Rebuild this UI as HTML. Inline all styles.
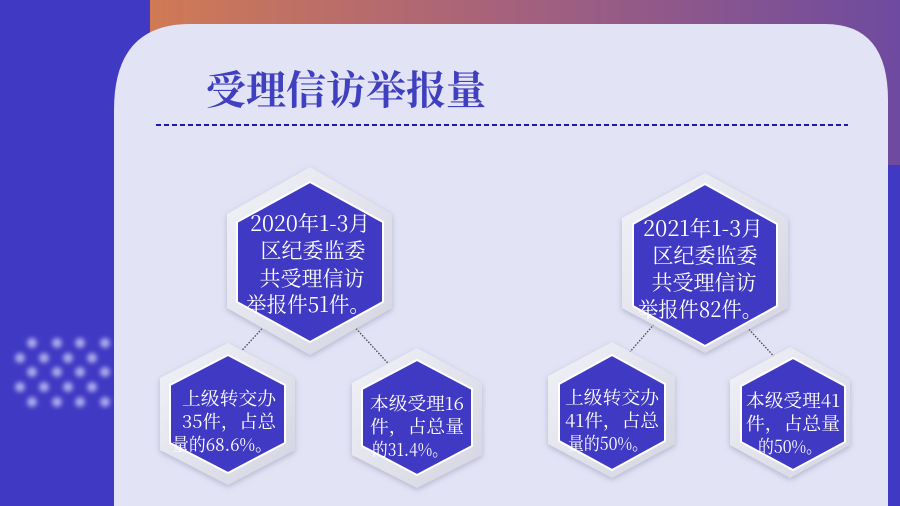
<!DOCTYPE html>
<html><head><meta charset="utf-8"><style>
html,body{margin:0;padding:0;width:900px;height:506px;overflow:hidden;background:#4039c3}
</style></head><body>
<svg width="900" height="506" xmlns="http://www.w3.org/2000/svg" style="position:absolute;left:0;top:0">
<defs>
<linearGradient id="bg" x1="0" y1="0" x2="1" y2="0">
<stop offset="0" stop-color="#d07a55"/><stop offset="0.45" stop-color="#a8637a"/><stop offset="1" stop-color="#6e4aa0"/>
</linearGradient>
<linearGradient id="glass" x1="0" y1="0" x2="1" y2="1">
<stop offset="0" stop-color="#f2f2f8"/><stop offset="1" stop-color="#d4d4e2"/>
</linearGradient>
<filter id="sh" x="-20%" y="-20%" width="140%" height="140%"><feDropShadow dx="0" dy="2" stdDeviation="3" flood-color="#8888a8" flood-opacity="0.5"/></filter>
<filter id="bl"><feGaussianBlur stdDeviation="2.5"/></filter>
</defs>
<rect x="0" y="0" width="900" height="506" fill="#4039c3"/>
<path d="M150 0 H900 V165 H150 Z" fill="url(#bg)"/>
<rect x="0" y="0" width="145" height="506" fill="#4039c3"/>
<g fill="#b8b8f0" filter="url(#bl)" opacity="0.9">
<circle cx="32" cy="343" r="5"/><circle cx="57" cy="343" r="5"/><circle cx="80" cy="343" r="5"/><circle cx="105" cy="343" r="5"/>
<circle cx="20" cy="358" r="5"/><circle cx="44" cy="358" r="5"/><circle cx="68" cy="358" r="5"/><circle cx="92" cy="358" r="5"/>
<circle cx="32" cy="372" r="5"/><circle cx="57" cy="372" r="5"/><circle cx="80" cy="372" r="5"/><circle cx="105" cy="372" r="5"/>
<circle cx="20" cy="387" r="5"/><circle cx="44" cy="387" r="5"/><circle cx="68" cy="387" r="5"/><circle cx="92" cy="387" r="5"/>
<circle cx="32" cy="402" r="5"/><circle cx="57" cy="402" r="5"/><circle cx="80" cy="402" r="5"/><circle cx="105" cy="402" r="5"/>
</g>
<path d="M114 506 V110 Q114 24 190 24 H825 Q888 24 888 100 V506 Z" fill="#e2e3f5"/>
<text x="206" y="104" font-family="'Noto Serif CJK SC',serif" font-size="40" font-weight="bold" fill="#3f3fbf">受理信访举报量</text>
<line x1="156" y1="125" x2="848" y2="125" stroke="#1a1ab0" stroke-width="2" stroke-dasharray="5,3"/>
<g stroke="#444" stroke-width="1.3" stroke-dasharray="1.5,1.5">
<line x1="270" y1="320" x2="234" y2="359"/>
<line x1="350" y1="322" x2="396" y2="372"/>
<line x1="656" y1="322" x2="622" y2="361"/>
<line x1="745" y1="325" x2="780" y2="363"/>
</g>
<g filter="url(#sh)" fill="url(#glass)">
<polygon points="310,167 392,214 392,308 310,355 227,308 227,214"/>
<polygon points="228,343 295,378 295,450 228,485 160,450 160,378"/>
<polygon points="417,348 482,383 482,455 417,488 352,455 352,383"/>
<polygon points="705,173 788,218 788,308 705,353 622,308 622,218"/>
<polygon points="612,342 675,376 675,444 612,478 548,444 548,376"/>
<polygon points="790,347 850,380 850,445 790,478 730,445 730,380"/>
</g>
<g fill="#4039c3" stroke="#ffffff" stroke-width="2">
<polygon points="310,182 383,222 383,302 310,342 237,302 237,222"/>
<polygon points="228,355 285,385 285,443 228,473 170,443 170,385"/>
<polygon points="417,360 472,389 472,446 417,475 362,446 362,389"/>
<polygon points="705,184 777,224 777,306 705,346 633,306 633,224"/>
<polygon points="612,355 665,384 665,441 612,470 559,441 559,384"/>
<polygon points="793,358 845,386 845,442 793,470 741,442 741,386"/>
</g>
<g font-family="'Noto Serif CJK SC',serif" fill="#ffffff" text-anchor="middle">
<g font-size="21">
<text x="310" y="231" textLength="120" lengthAdjust="spacingAndGlyphs">2020年1-3月</text>
<text x="313" y="258">区纪委监委</text>
<text x="312" y="286">共受理信访</text>
<text x="308" y="312" textLength="124" lengthAdjust="spacingAndGlyphs">举报件51件。</text>
<text x="703" y="236" textLength="120" lengthAdjust="spacingAndGlyphs">2021年1-3月</text>
<text x="705" y="263">区纪委监委</text>
<text x="704" y="290">共受理信访</text>
<text x="700" y="317" textLength="124" lengthAdjust="spacingAndGlyphs">举报件82件。</text>
</g>
<g font-size="18">
<text x="229" y="405" textLength="94" lengthAdjust="spacingAndGlyphs">上级转交办</text>
<text x="229" y="428" textLength="94" lengthAdjust="spacingAndGlyphs">35件，占总</text>
<text x="222" y="451" textLength="100" lengthAdjust="spacingAndGlyphs">量的68.6%。</text>
<text x="417" y="410" textLength="94" lengthAdjust="spacingAndGlyphs">本级受理16</text>
<text x="417" y="433" textLength="94" lengthAdjust="spacingAndGlyphs">件，占总量</text>
<text x="410" y="456" textLength="76" lengthAdjust="spacingAndGlyphs">的31.4%。</text>
<text x="612" y="404" textLength="94" lengthAdjust="spacingAndGlyphs">上级转交办</text>
<text x="612" y="427" textLength="94" lengthAdjust="spacingAndGlyphs">41件，占总</text>
<text x="608" y="450" textLength="80" lengthAdjust="spacingAndGlyphs">量的50%。</text>
<text x="793" y="407" textLength="94" lengthAdjust="spacingAndGlyphs">本级受理41</text>
<text x="793" y="430" textLength="94" lengthAdjust="spacingAndGlyphs">件，占总量</text>
<text x="790" y="453" textLength="64" lengthAdjust="spacingAndGlyphs">的50%。</text>
</g>
</g>
</svg>
</body></html>
